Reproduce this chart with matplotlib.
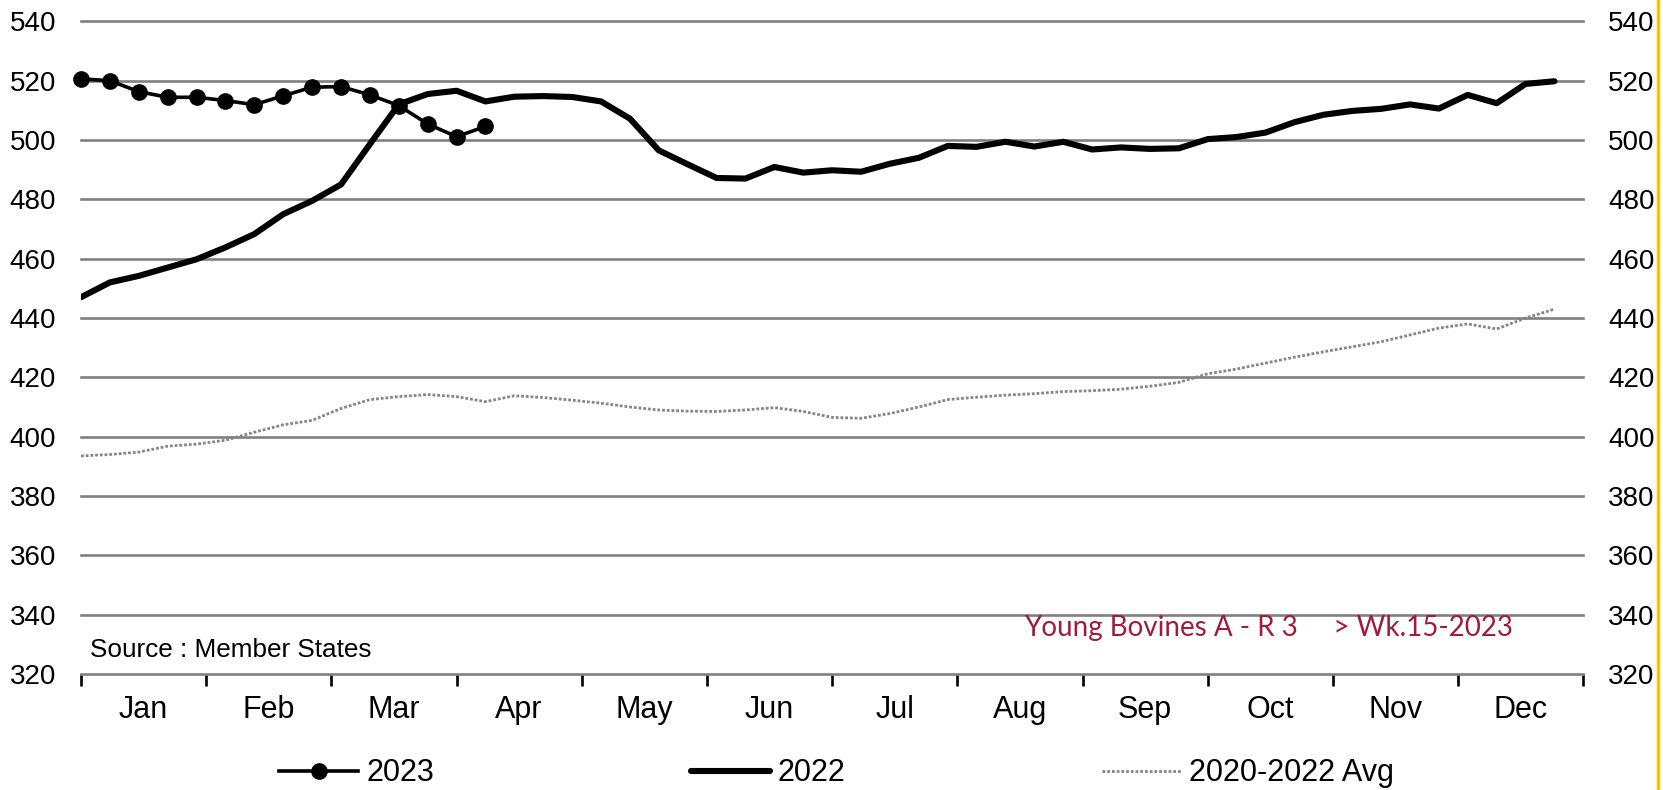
import matplotlib
matplotlib.use('Agg')
import numpy as np
import matplotlib.pyplot as plt
from matplotlib.lines import Line2D

plt.rcParams['font.family'] = ['Liberation Sans', 'DejaVu Sans']

# weekly prices, week 1..52
weeks = np.arange(52)

y2023 = [520.6, 520.0, 516.3, 514.4, 514.4, 513.3, 511.9, 514.9, 517.8, 518.0,
         515.2, 511.6, 505.4, 501.1, 504.6]

y2022 = [447.0, 452.0, 454.2, 457.0, 459.8, 463.8, 468.3, 475.0, 479.5, 485.0,
         498.6, 512.0, 515.5, 516.6, 513.0, 514.6, 514.8, 514.5, 513.0, 507.2,
         496.5, 491.8, 487.2, 487.0, 490.9, 489.0, 489.8, 489.3, 492.0, 494.0,
         498.0, 497.7, 499.4, 497.8, 499.4, 496.8, 497.5, 497.0, 497.2, 500.3,
         501.0, 502.5, 506.0, 508.5, 509.8, 510.5, 512.0, 510.6, 515.2, 512.4,
         518.9, 519.8]

avg = [393.5, 394.0, 394.8, 396.8, 397.5, 398.8, 401.5, 404.0, 405.5, 409.5,
       412.5, 413.5, 414.2, 413.5, 411.8, 413.8, 413.2, 412.3, 411.3, 410.0,
       409.0, 408.6, 408.5, 409.0, 409.8, 408.5, 406.5, 406.2, 407.8, 410.0,
       412.5, 413.3, 414.0, 414.5, 415.2, 415.5, 416.0, 417.0, 418.3, 421.2,
       422.8, 424.8, 426.8, 428.6, 430.3, 432.0, 434.3, 436.6, 438.0, 436.3,
       440.0, 443.0]

months = ['Jan', 'Feb', 'Mar', 'Apr', 'May', 'Jun',
          'Jul', 'Aug', 'Sep', 'Oct', 'Nov', 'Dec']
yticks = np.arange(320, 541, 20)

fig = plt.figure(figsize=(16.63, 7.90), dpi=100)
ax = fig.add_axes([0.0487, 0.1468, 0.9034, 0.8262])

ax.plot(weeks, avg, color='#858585', lw=2.0, linestyle=(0, (1.0, 0.7)),
        label='2020-2022 Avg', zorder=3)
ax.plot(weeks, y2022, color='black', lw=4.4, label='2022', zorder=4,
        solid_capstyle='round', solid_joinstyle='round')
ax.plot(weeks[:len(y2023)], y2023, color='black', lw=2.6, marker='o',
        markersize=11, label='2023', zorder=5, clip_on=False)

ax.set_xlim(0, 52)
ax.set_ylim(320, 540)
ax.set_yticks(yticks)

month_w = 52 / 12
ax.set_xticks(np.arange(13) * month_w)
ax.set_xticklabels([])
ax.set_xticks(np.arange(12) * month_w + month_w / 2, minor=True)
ax.set_xticklabels(months, minor=True, fontsize=22)
ax.tick_params(axis='x', which='major', direction='out', length=8.6,
               width=1.9, color='black')
ax.tick_params(axis='x', which='minor', length=0, pad=15)
ax.tick_params(axis='y', which='both', length=0, labelsize=20, pad=18,
               labelright=True)

ax.yaxis.grid(True, color='#808080', lw=1.9)
for gl in ax.get_ygridlines():
    gl.set_clip_on(False)
for s in ax.spines.values():
    s.set_visible(False)

ax.text(0.006, 0.037, 'Source : Member States', transform=ax.transAxes,
        fontsize=18.8, va='center', ha='left')
ax.text(0.628, 0.0705, 'Young Bovines A - R 3     > Wk.15-2023',
        transform=ax.transAxes, fontsize=20, va='center', ha='left',
        color='#a01c3c', family=['Lato', 'DejaVu Sans'])

h, l = ax.get_legend_handles_labels()
order = [2, 1, 0]
fig.legend([h[i] for i in order], [l[i] for i in order], loc='center',
           bbox_to_anchor=(0.503, 0.021), ncol=3, frameon=False, fontsize=22,
           handlelength=2.6, handletextpad=0.25, columnspacing=8.4)

# yellow border line at the right edge
fig.add_artist(Line2D([0.9968, 0.9968], [0, 1], transform=fig.transFigure,
                      color='#FFC000', lw=2.4))

fig.savefig('out.png', dpi=100)
